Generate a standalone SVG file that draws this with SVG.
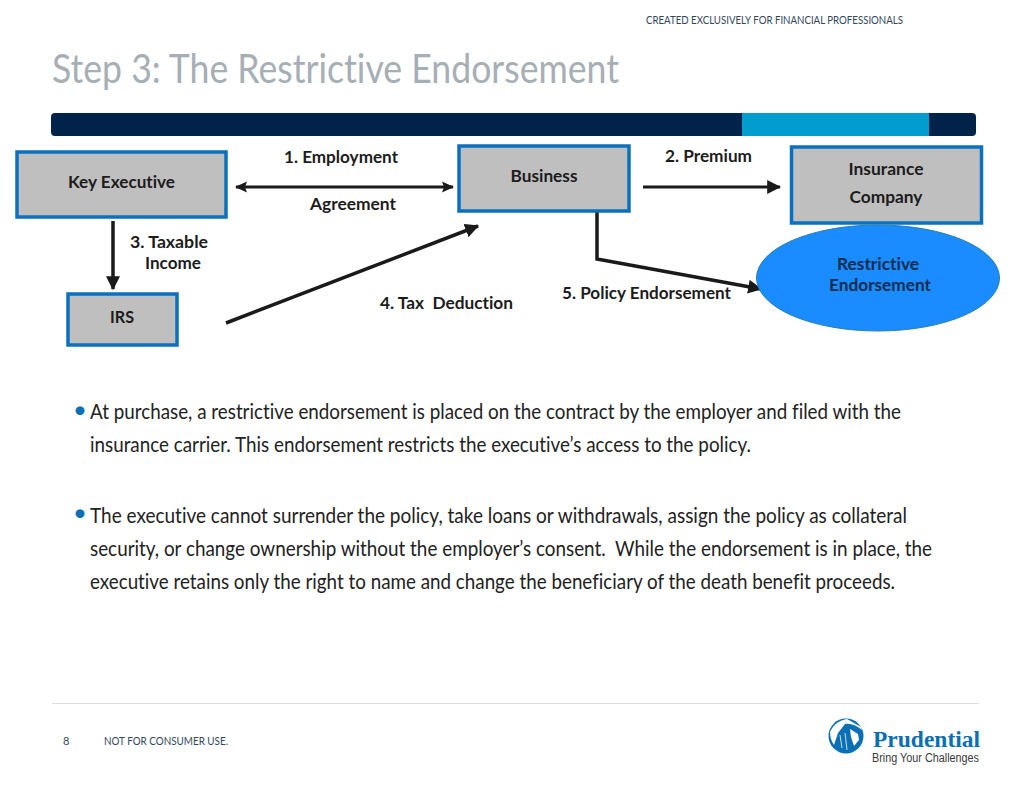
<svg xmlns="http://www.w3.org/2000/svg" width="1024" height="791" viewBox="0 0 1024 791">
<style>
text{font-family:"Lato","Liberation Sans",sans-serif;font-variant-ligatures:none}
.box{fill:#bfbfbf;stroke:#0b70bd;stroke-width:3.5}
.lb{font-size:17.500px;font-weight:700;fill:#1c1c1c}
.nv{font-weight:700;font-size:17.500px;fill:#0f2d4f}
.body{font-size:20.500px;fill:#222}
.bul{font-size:24px;fill:#0a6fb5}
.con{fill:none;stroke:#1a1a1a;stroke-width:3.500}
.thin{fill:none;stroke:#1a1a1a;stroke-width:3}
.small{font-size:11px;fill:#33475c}
.brand{font-family:"Liberation Serif",serif;font-size:24px;font-weight:700;fill:#0a6fb5}
.tag{font-family:"Liberation Sans",sans-serif;font-size:12px;fill:#3a3a3a}
</style>
<defs>
<marker id="ah" viewBox="0 0 12 12" refX="11" refY="6" markerWidth="12" markerHeight="12" markerUnits="userSpaceOnUse" orient="auto-start-reverse"><path d="M0 0.500L12 6L0 11.500L2 6Z" fill="#1a1a1a"/></marker>
<marker id="ahb" viewBox="0 0 12 12" refX="11" refY="6" markerWidth="14" markerHeight="14" markerUnits="userSpaceOnUse" orient="auto"><path d="M0 0L12 6L0 12Z" fill="#1a1a1a"/></marker>
</defs>
<rect width="1024" height="791" fill="#fff"/>
<text class="small" x="646" y="24" textLength="257" lengthAdjust="spacingAndGlyphs">CREATED EXCLUSIVELY FOR FINANCIAL PROFESSIONALS</text>
<text x="52" y="83" font-size="40" fill="#a6aeb6" textLength="567" lengthAdjust="spacingAndGlyphs">Step 3: The Restrictive Endorsement</text>
<rect x="51" y="113" width="925" height="23" rx="4" fill="#012249"/>
<rect x="742" y="113" width="187" height="23" fill="#029dcf"/>

<g id="connectors">
<line class="thin" x1="236" y1="187" x2="453" y2="187" marker-start="url(#ah)" marker-end="url(#ah)"/>
<line class="thin" x1="643" y1="187" x2="780" y2="187" marker-end="url(#ahb)"/>
<line class="con" x1="113" y1="221" x2="113" y2="289" marker-end="url(#ahb)"/>
<line class="con" x1="226" y1="323" x2="478" y2="226" marker-end="url(#ahb)"/>
<polyline class="con" points="597,212 597,259 761,289" marker-end="url(#ahb)"/>
</g>

<g id="node-key-executive"><rect class="box" x="17" y="152" width="209" height="65"/><text class="lb" x="121.500" y="188" text-anchor="middle" textLength="107" lengthAdjust="spacingAndGlyphs">Key Executive</text></g>
<g id="node-business"><rect class="box" x="459" y="146" width="170" height="65"/><text class="lb" x="544" y="182" text-anchor="middle" textLength="67" lengthAdjust="spacingAndGlyphs">Business</text></g>
<g id="node-insurance"><rect class="box" x="791.500" y="147" width="190" height="76"/><text class="lb" x="886" y="175" text-anchor="middle" textLength="75" lengthAdjust="spacingAndGlyphs">Insurance</text><text class="lb" x="886" y="203" text-anchor="middle" textLength="73" lengthAdjust="spacingAndGlyphs">Company</text></g>
<g id="node-irs"><rect class="box" x="68" y="294" width="109" height="51"/><text class="lb" x="122" y="323" text-anchor="middle" textLength="24" lengthAdjust="spacingAndGlyphs">IRS</text></g>
<g id="node-restrictive"><ellipse cx="878" cy="278" rx="121.500" ry="53" fill="#1a8cff" stroke="#2a7fa8" stroke-width="1"/><text class="nv" x="878" y="270" text-anchor="middle" textLength="82" lengthAdjust="spacingAndGlyphs">Restrictive</text><text class="nv" x="880" y="291" text-anchor="middle" textLength="102" lengthAdjust="spacingAndGlyphs">Endorsement</text></g>

<text class="lb" x="284" y="163" textLength="114" lengthAdjust="spacingAndGlyphs">1. Employment</text>
<text class="lb" x="310" y="210" textLength="86" lengthAdjust="spacingAndGlyphs">Agreement</text>
<text class="lb" x="665" y="162" textLength="87" lengthAdjust="spacingAndGlyphs">2. Premium</text>
<text class="lb" x="130" y="248" textLength="78" lengthAdjust="spacingAndGlyphs">3. Taxable</text>
<text class="lb" x="145" y="269" textLength="56" lengthAdjust="spacingAndGlyphs">Income</text>
<text class="lb" x="380" y="309" textLength="133" lengthAdjust="spacingAndGlyphs">4. Tax&#160; Deduction</text>
<text class="lb" x="562" y="299" textLength="169" lengthAdjust="spacingAndGlyphs">5. Policy Endorsement</text>

<text class="bul" x="73" y="418">•</text>
<text class="body" x="90" y="419" textLength="811" lengthAdjust="spacingAndGlyphs">At purchase, a restrictive endorsement is placed on the contract by the employer and filed with the</text>
<text class="body" x="90" y="452" textLength="661" lengthAdjust="spacingAndGlyphs">insurance carrier. This endorsement restricts the executive’s access to the policy.</text>
<text class="bul" x="73" y="521">•</text>
<text class="body" x="90" y="523" textLength="817" lengthAdjust="spacingAndGlyphs">The executive cannot surrender the policy, take loans or withdrawals, assign the policy as collateral</text>
<text class="body" x="90" y="556" textLength="842" lengthAdjust="spacingAndGlyphs">security, or change ownership without the employer’s consent.&#160; While the endorsement is in place, the</text>
<text class="body" x="90" y="589" textLength="805" lengthAdjust="spacingAndGlyphs">executive retains only the right to name and change the beneficiary of the death benefit proceeds.</text>

<line x1="52" y1="703.500" x2="979" y2="703.500" stroke="#dcdcdc"/>
<text class="small" x="63" y="745">8</text>
<text class="small" x="104" y="745" textLength="124" lengthAdjust="spacingAndGlyphs">NOT FOR CONSUMER USE.</text>

<g id="logo">
<circle cx="846" cy="736" r="17.500" fill="#0a6fb5"/>
<path d="M830 732C834 723 841 720 847 719L861 727L862 730C856 725 850 723 845 724L838 733L834 745C831 741 830 736 830 732Z" fill="#fff"/>
<path d="M850 729L858 734L859 740L854 746L851 737Z" fill="#fff"/>
<path d="M840 735L842 748M845 733L847 750" stroke="#fff" stroke-width="0.800" fill="none"/>
<text class="brand" x="873" y="747" textLength="107" lengthAdjust="spacingAndGlyphs">Prudential</text>
<text class="tag" x="872" y="762" textLength="107" lengthAdjust="spacingAndGlyphs">Bring Your Challenges</text>
</g>
</svg>
